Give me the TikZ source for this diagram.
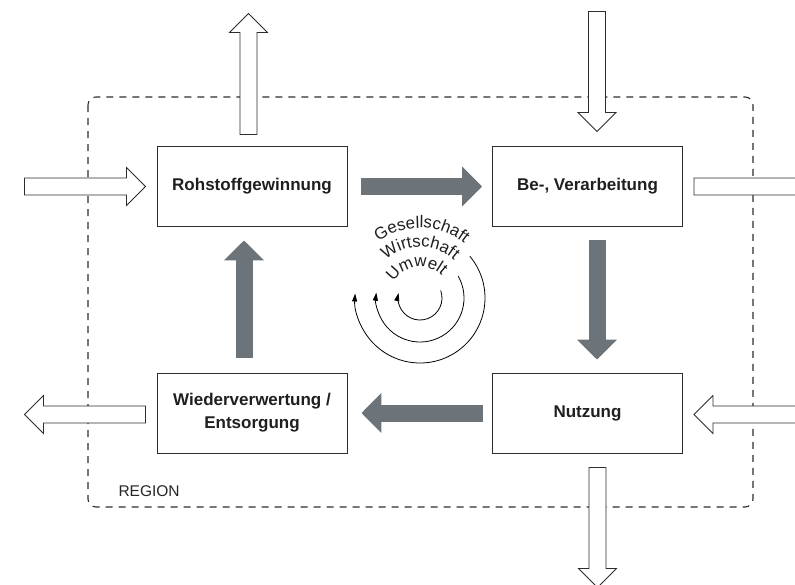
\documentclass[tikz,border=0pt]{standalone}
\usepackage{fontspec}
\setmainfont{Liberation Sans}
\usetikzlibrary{arrows.meta,calc}
\definecolor{arrgray}{RGB}{108,116,122}
\definecolor{linec}{RGB}{45,45,45}
\newcommand\arcfs{16.8}
% #1 radius, #2 centre angle, #3 total width (em), #4 name prefix, #5 list char/width
\newcommand\arctext[5]{%
  \gdef\cumw{0}%
  \foreach \ch/\w [count=\i] in {#5} {%
    \pgfmathsetmacro\arcang{#2 + (#3/2 - \cumw - \w/2)*\arcfs/#1*180/pi}%
    \node[arcchar, rotate=\arcang-90] (#4\i) at ($(c)+(\arcang:#1)$) {\ch};%
    \pgfmathsetmacro\arctmp{\cumw+\w}\xdef\cumw{\arctmp}%
  }}
\begin{document}
\begin{tikzpicture}[x=1pt,y=-1pt,
  box/.style={draw=linec, line width=0.9pt, minimum width=190pt, minimum height=80pt, inner sep=0pt,
    font=\fontsize{17}{23}\selectfont\bfseries, text=black!88, align=center},
  grayarr/.style={draw=arrgray, line width=17pt, -{Triangle[length=20pt,width=39pt]}},
  hollow/.style={draw=linec, line width=0.8pt, fill=white, line join=miter},
  pics/harrow/.style={code={\draw[hollow] (0,-8.5) -- ({#1-19},-8.5) -- ({#1-19},-19) -- (#1,0) -- ({#1-19},19) -- ({#1-19},8.5) -- (0,8.5) -- cycle;}},
  circ/.style={draw=black, line width=0.8pt, -{Triangle[length=8pt,width=5pt]}},
  region/.style={draw=linec, line width=1.1pt, dash pattern=on 7pt off 6pt, rounded corners=8pt},
  arcchar/.style={anchor=base, inner sep=0pt, outer sep=0pt, font=\fontsize{\arcfs}{18}\selectfont, text=black!88}
]
\useasboundingbox (0,0) rectangle (795,584);
\clip (0,0) rectangle (795,584);

% region border
\draw[region] (88,97) rectangle (753,507);
\node[anchor=base west, font=\fontsize{15.5}{18}\selectfont, text=black!85] (reg) at (115,496) {REGION};

% boxes
\node[box] (roh)  at (252,186)   {Rohstoffgewinnung};
\node[box] (be)   at (587.5,186) {Be-, Verarbeitung};
\node[box] (wied) at (252,413)   {Wiederverwertung /\\Entsorgung};
\node[box] (nutz) at (587.5,413) {Nutzung};

% hollow in/out arrows
\pic at ($(roh.west)+(-132,0.5)$) {harrow=121};
\pic[rotate=90] at ($(roh.north)+(-3.5,-11)$) {harrow=121};
\pic[rotate=-90] at ($(be.north)+(9.5,-134)$) {harrow=120};
\pic at ($(be.east)+(11,0.5)$) {harrow=125};
\pic[rotate=180] at ($(wied.west)+(-11,1.5)$) {harrow=121};
\pic[rotate=180] at ($(nutz.east)+(137,1.5)$) {harrow=126};
\pic[rotate=-90] at ($(nutz.south)+(10,14)$) {harrow=120};

% gray flow arrows
\draw[grayarr] ($(roh.east)+(14,0.5)$) -- ($(be.west)+(-10,0.5)$);
\draw[grayarr] ($(be.south)+(9.5,14)$) -- ($(nutz.north)+(9.5,-13)$);
\draw[grayarr] ($(nutz.west)+(-9,0)$) -- ($(wied.east)+(14,0)$);
\draw[grayarr] ($(wied.north)+(-8,-15)$) -- ($(roh.south)+(-8,14)$);

% circles (normal y orientation inside this scope)
\coordinate (c) at (420,298);
\begin{scope}[y=1pt]
\draw[circ] (c) ++(40:65) arc[start angle=40, end angle=-184, radius=65];
\draw[circ] (c) ++(30:44) arc[start angle=30, end angle=-187, radius=44];
\draw[circ] (c) ++(20:22) arc[start angle=20, end angle=-193, radius=22];
\arctext{70}{88.5}{5.502}{ges}{G/0.778,e/0.556,s/0.5,e/0.556,l/0.222,l/0.222,s/0.5,c/0.5,h/0.556,a/0.556,f/0.278,t/0.278}
\arctext{51}{90}{4.445}{wir}{W/0.944,i/0.222,r/0.333,t/0.278,s/0.5,c/0.5,h/0.556,a/0.556,f/0.278,t/0.278}
\arctext{31}{97}{3.333}{umw}{U/0.722,m/0.833,w/0.722,e/0.556,l/0.222,t/0.278}
\end{scope}
\end{tikzpicture}
\end{document}
